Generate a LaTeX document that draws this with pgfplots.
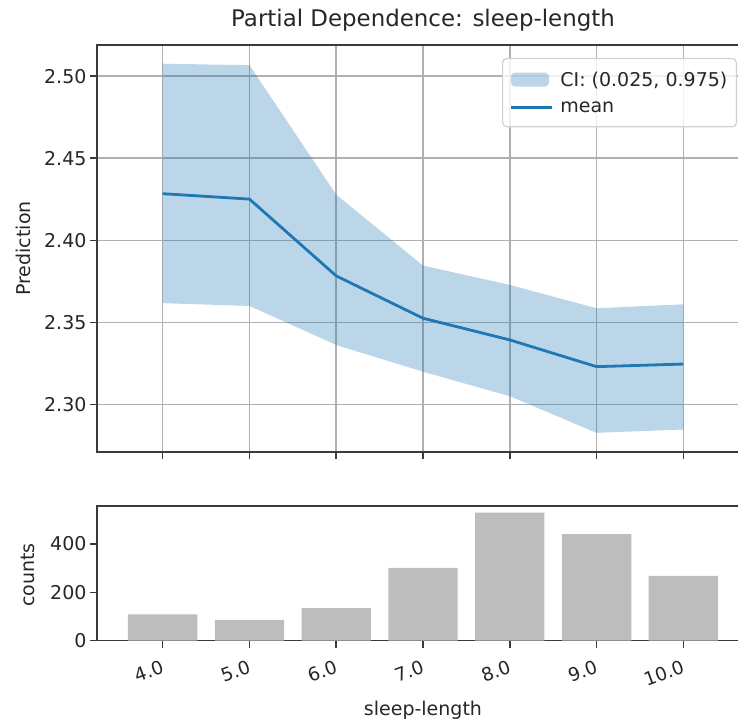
\documentclass[border=0pt]{standalone}
\usepackage{fontspec}
\setmainfont{DejaVu Sans}
\usepackage{pgfplots}
\pgfplotsset{compat=1.18}
\definecolor{tabblue}{HTML}{1F77B4}
\definecolor{gridgray}{HTML}{B0B0B0}
\definecolor{barsilver}{HTML}{BDBDBD}
\definecolor{spine}{HTML}{3A3A3A}

\newcommand{\tl}{\fontsize{19}{19}\selectfont}

\pgfplotsset{
  pdstyle/.style={
    scale only axis,
    xmin=3.243, xmax=10.757,
    xtick={4,5,6,7,8,9,10},
    tick align=outside,
    major tick length=7pt,
    tick style={spine, line width=1.5pt},
    axis line style={spine, line width=1.5pt},
    xtick pos=left, ytick pos=left,
    ticklabel style={font=\tl, text=black!85},
    label style={font=\tl, text=black!85},
    /pgf/number format/assume math mode=true,
  },
  bandlegend/.style={legend image code/.code={\path[##1] (0pt,-7pt) rectangle (38pt,7pt);}},
  meanlegend/.style={legend image code/.code={\draw[##1] (0pt,0pt) -- (41pt,0pt);}},
}

\begin{document}
\begin{tikzpicture}
% upper panel: partial dependence with CI band
\begin{axis}[pdstyle,
  at={(97pt,-452pt)}, anchor=south west,
  width=652pt, height=407pt,
  ymin=2.271, ymax=2.519,
  ytick={2.30,2.35,2.40,2.45,2.50},
  yticklabel style={/pgf/number format/.cd, fixed, fixed zerofill, precision=2},
  xticklabels={},
  grid=major,
  major grid style={gridgray, line width=1.5pt},
  ylabel={Prediction},
  ylabel style={at={(axis description cs:-0.1135,0.5)}, anchor=center},
  title={Partial Dependence: sleep-length},
  title style={at={(axis description cs:0.5,1.047)}, anchor=center, inner sep=0pt,
    font=\fontsize{22.9}{22.9}\selectfont, text=black!85},
  legend style={at={(1,1)}, anchor=north east, xshift=-12pt, yshift=-13pt,
    draw=black!18, line width=1.2pt, rounded corners=4pt,
    fill=white, fill opacity=0.8, text opacity=1, draw opacity=1,
    font=\tl, text=black!85, inner xsep=7pt, inner ysep=11pt, row sep=10pt,
    column sep=5pt, cells={anchor=west}},
]
\addplot[fill=tabblue, fill opacity=0.3, draw=none, bandlegend]
  coordinates {(4,2.5076) (5,2.5067) (6,2.4278) (7,2.3846) (8,2.3728) (9,2.3586) (10,2.3610)
               (10,2.2847) (9,2.2827) (8,2.3050) (7,2.3199) (6,2.3362) (5,2.3600) (4,2.3617)};
\addlegendentry{CI: (0.025, 0.975)}
\addplot[tabblue, line width=2.8pt, mark=none, meanlegend]
  coordinates {(4,2.4284) (5,2.4251) (6,2.3783) (7,2.3525) (8,2.3393) (9,2.3230) (10,2.3246)};
\addlegendentry{mean}
\end{axis}

% lower panel: counts per value
\begin{axis}[pdstyle,
  at={(97pt,-640.7pt)}, anchor=south west,
  width=652pt, height=134.7pt,
  ymin=0, ymax=557,
  ytick={0,200,400},
  xticklabels={4.0,5.0,6.0,7.0,8.0,9.0,10.0},
  xticklabel style={rotate=20, anchor=north east, xshift=-3pt, yshift=-7pt,
    font=\fontsize{18.5}{18.5}\selectfont},
  ylabel={counts},
  ylabel style={at={(axis description cs:-0.1058,0.488)}, anchor=center},
  xlabel={sleep-length},
  xlabel style={at={(axis description cs:0.5,-0.514)}, anchor=center},
  ybar, bar width=0.8,
]
\addplot[fill=barsilver, draw=none]
  coordinates {(4,109) (5,86) (6,135) (7,301) (8,530) (9,441) (10,268)};
\end{axis}

\pgfresetboundingbox
\path[use as bounding box] (0pt,0pt) rectangle (738pt,-722pt);
\end{tikzpicture}
\end{document}
